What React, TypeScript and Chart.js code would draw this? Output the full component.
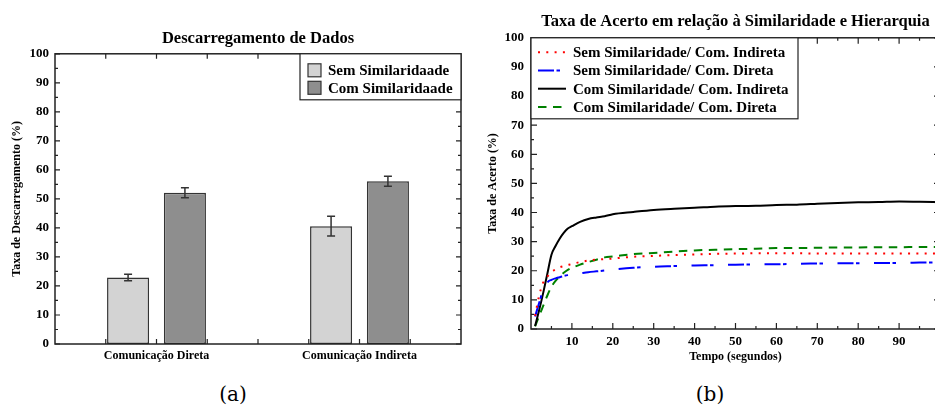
import React, { useEffect, useRef } from 'react';
import { Chart, registerables } from 'chart.js';

Chart.register(...registerables);

const SERIF = "'Liberation Serif', 'Times New Roman', serif";

// ---------- (a) Descarregamento de Dados ----------
const barTitle = 'Descarregamento de Dados';
const barYTitle = 'Taxa de Descarregamento (%)';
const barCategories = ['Comunicação Direta', 'Comunicação Indireta'];
const barSeriesLabels = ['Sem Similaridaade', 'Com Similaridaade'];
const semSimilaridadeValues = [22.9, 40.6];
const semSimilaridadeErrors = [1.1, 3.4];
const comSimilaridadeValues = [52.1, 56.1];
const comSimilaridadeErrors = [1.7, 1.7];
const barColors = ['#d3d3d3', '#8e8e8e'];
const barMajorY = [0, 10, 20, 30, 40, 50, 60, 70, 80, 90, 100];
const barMinorY = [5, 15, 25, 35, 45, 55, 65, 75, 85, 95];
const barXTickMarks = [-0.25, 0, 0.25, 0.5, 0.75, 1, 1.25];

// ---------- (b) Taxa de Acerto ----------
const lineTitle = 'Taxa de Acerto em relação à Similaridade e Hierarquia';
const lineYTitle = 'Taxa de Acerto (%)';
const lineXTitle = 'Tempo (segundos)';
const lineSeriesLabels = [
  'Sem Similaridade/ Com. Indireta',
  'Sem Similaridade/ Com. Direta',
  'Com Similaridade/ Com. Indireta',
  'Com Similaridade/ Com. Direta',
];
const timeSeconds = [1, 2, 3, 4, 5, 6, 7, 8, 9, 10, 12, 14, 16, 18, 20, 25, 30, 35, 40, 45, 50, 55, 60, 65, 70, 75, 80, 85, 90, 95, 100];
const semSimIndireta = [4.5, 11.5, 16, 18, 19.5, 20.5, 21.2, 21.6, 22, 22.3, 23, 23.5, 23.8, 24, 24.2, 24.8, 25.1, 25.4, 25.6, 25.8, 25.9, 26, 26, 26, 25.9, 25.9, 25.9, 25.9, 25.9, 25.9, 25.9];
const semSimDireta = [4.3, 9, 13.5, 16, 16.9, 17.4, 17.8, 18.2, 18.5, 18.7, 19.1, 19.5, 19.8, 20.1, 20.4, 21, 21.4, 21.6, 21.8, 21.9, 22.1, 22.2, 22.2, 22.4, 22.5, 22.6, 22.6, 22.7, 22.7, 22.8, 22.9];
const comSimIndireta = [1, 6.5, 12.5, 19, 25.5, 28.5, 31, 33, 34.5, 35.3, 36.8, 37.8, 38.3, 38.7, 39.4, 40.2, 40.9, 41.3, 41.6, 42, 42.2, 42.3, 42.6, 42.7, 43, 43.3, 43.5, 43.6, 43.8, 43.7, 43.5];
const comSimDireta = [0.9, 4.5, 8, 11.5, 14.5, 16.5, 18, 19.3, 20.3, 21, 22.1, 23, 23.8, 24.6, 24.9, 25.7, 26.1, 26.6, 27, 27.2, 27.4, 27.6, 27.8, 27.8, 27.9, 28, 28, 28.1, 28.1, 28.2, 28.2];
const lineColors = ['#ff0000', '#0000ff', '#000000', '#008000'];
const lineDashes = [[2, 6.3], [16, 2.5, 3.5, 14.5], [], [8.5, 6.5]];
const lineMajorX = [10, 20, 30, 40, 50, 60, 70, 80, 90];
const lineMinorX = [5, 15, 25, 35, 45, 55, 65, 75, 85, 95];
const lineMajorY = [0, 10, 20, 30, 40, 50, 60, 70, 80, 90, 100];
const lineMinorY = [5, 15, 25, 35, 45, 55, 65, 75, 85, 95];

function framePlugin(xMajor: number[], xMinor: number[], yMajor: number[], yMinor: number[], majorLen: number, minorLen: number) {
  return {
    id: 'frameTicks',
    afterDatasetsDraw(chart: any) {
      const { ctx, chartArea: a, scales } = chart;
      ctx.save();
      ctx.strokeStyle = '#222';
      ctx.lineWidth = 1.2;
      ctx.beginPath();
      const xt = (vals: number[], len: number) => {
        for (const v of vals) {
          const px = scales.x.getPixelForValue(v);
          ctx.moveTo(px, a.bottom);
          ctx.lineTo(px, a.bottom - len);
          ctx.moveTo(px, a.top);
          ctx.lineTo(px, a.top + len);
        }
      };
      const yt = (vals: number[], len: number) => {
        for (const v of vals) {
          const py = scales.y.getPixelForValue(v);
          ctx.moveTo(a.left, py);
          ctx.lineTo(a.left + len, py);
          ctx.moveTo(a.right, py);
          ctx.lineTo(a.right - len, py);
        }
      };
      xt(xMajor, majorLen);
      xt(xMinor, minorLen);
      yt(yMajor, majorLen);
      yt(yMinor, minorLen);
      ctx.stroke();
      ctx.lineWidth = 1.5;
      ctx.strokeRect(a.left, a.top, a.right - a.left, a.bottom - a.top);
      ctx.restore();
    },
  };
}

const errorBarPlugin = {
  id: 'errorBars',
  afterDatasetsDraw(chart: any) {
    const { ctx, scales } = chart;
    const errs = [semSimilaridadeErrors, comSimilaridadeErrors];
    ctx.save();
    ctx.strokeStyle = '#333';
    ctx.lineWidth = 1.5;
    chart.data.datasets.forEach((ds: any, di: number) => {
      const meta = chart.getDatasetMeta(di);
      meta.data.forEach((bar: any, i: number) => {
        const v = ds.data[i];
        const e = errs[di][i];
        const yt = scales.y.getPixelForValue(v + e);
        const yb = scales.y.getPixelForValue(v - e);
        const x = bar.x;
        ctx.beginPath();
        ctx.moveTo(x, yt);
        ctx.lineTo(x, yb);
        ctx.moveTo(x - 4, yt);
        ctx.lineTo(x + 4, yt);
        ctx.moveTo(x - 4, yb);
        ctx.lineTo(x + 4, yb);
        ctx.stroke();
      });
    });
    ctx.restore();
  },
};

const barLegendPlugin = {
  id: 'barLegend',
  afterDraw(chart: any) {
    const { ctx, chartArea: a } = chart;
    const w = 161;
    const h = 46;
    const left = a.right - w;
    const top = a.top;
    ctx.save();
    ctx.fillStyle = '#fff';
    ctx.fillRect(left, top, w, h);
    ctx.strokeStyle = '#222';
    ctx.lineWidth = 1.2;
    ctx.strokeRect(left, top, w, h);
    ctx.font = `bold 15px ${SERIF}`;
    ctx.textBaseline = 'middle';
    ctx.textAlign = 'left';
    barSeriesLabels.forEach((label, i) => {
      const cy = top + 16.5 + i * 17.5;
      ctx.fillStyle = barColors[i];
      ctx.fillRect(left + 8, cy - 6.5, 13, 13);
      ctx.strokeStyle = '#333';
      ctx.lineWidth = 1.2;
      ctx.strokeRect(left + 8, cy - 6.5, 13, 13);
      ctx.fillStyle = '#000';
      ctx.fillText(label, left + 28, cy + 1);
    });
    ctx.restore();
  },
};

const lineLegendPlugin = {
  id: 'lineLegend',
  afterDraw(chart: any) {
    const { ctx, chartArea: a } = chart;
    const w = 267;
    const h = 81;
    const left = a.left;
    const top = a.top;
    ctx.save();
    ctx.fillStyle = '#fff';
    ctx.fillRect(left, top, w, h);
    ctx.strokeStyle = '#222';
    ctx.lineWidth = 1.2;
    ctx.strokeRect(left, top, w, h);
    ctx.font = `bold 15px ${SERIF}`;
    ctx.textBaseline = 'middle';
    ctx.textAlign = 'left';
    lineSeriesLabels.forEach((label, i) => {
      const cy = top + 14.5 + i * 18.2;
      ctx.strokeStyle = lineColors[i];
      ctx.lineWidth = 2;
      ctx.setLineDash(lineDashes[i]);
      ctx.beginPath();
      ctx.moveTo(left + 7, cy);
      ctx.lineTo(left + 35, cy);
      ctx.stroke();
      ctx.setLineDash([]);
      ctx.fillStyle = '#000';
      ctx.fillText(label, left + 42, cy + 1);
    });
    ctx.restore();
  },
};

export default function App() {
  const leftRef = useRef<HTMLCanvasElement>(null);
  const rightRef = useRef<HTMLCanvasElement>(null);

  useEffect(() => {
    const left = new Chart(leftRef.current as HTMLCanvasElement, {
      type: 'bar',
      data: {
        labels: barCategories,
        datasets: [
          {
            label: barSeriesLabels[0],
            data: semSimilaridadeValues,
            backgroundColor: barColors[0],
            borderColor: '#333',
            borderWidth: 1.5,
            borderSkipped: false,
            categoryPercentage: 0.56,
            barPercentage: 0.74,
          },
          {
            label: barSeriesLabels[1],
            data: comSimilaridadeValues,
            backgroundColor: barColors[1],
            borderColor: '#333',
            borderWidth: 1.5,
            borderSkipped: false,
            categoryPercentage: 0.56,
            barPercentage: 0.74,
          },
        ],
      },
      options: {
        responsive: false,
        animation: false,
        layout: { padding: { left: 0, right: 6, top: 0, bottom: 0 } },
        plugins: {
          legend: { display: false },
          tooltip: { enabled: false },
          title: {
            display: true,
            text: barTitle,
            fullSize: false,
            color: '#000',
            font: { family: SERIF, size: 16.5, weight: 'bold' },
            padding: { top: 29, bottom: 5 },
          },
        },
        scales: {
          x: {
            grid: { display: false, drawTicks: false },
            border: { display: false },
            ticks: { color: '#000', font: { family: SERIF, size: 12, weight: 'bold' }, padding: 5, maxRotation: 0 },
            afterFit: (s: any) => { s.height = 30; },
          },
          y: {
            min: 0,
            max: 100,
            grid: { display: false, drawTicks: false },
            border: { display: false },
            ticks: { stepSize: 10, color: '#000', font: { family: SERIF, size: 13, weight: 'bold' }, padding: 6 },
            title: {
              display: true,
              text: barYTitle,
              color: '#000',
              font: { family: SERIF, size: 12, weight: 'bold' },
              padding: { top: 10, bottom: 0 },
            },
            afterFit: (s: any) => { s.width = 55; },
          },
        },
      } as any,
      plugins: [framePlugin(barXTickMarks, [], barMajorY, barMinorY, 5, 3), errorBarPlugin, barLegendPlugin],
    });

    const seriesList = [semSimIndireta, semSimDireta, comSimIndireta, comSimDireta];
    const right = new Chart(rightRef.current as HTMLCanvasElement, {
      type: 'line',
      data: {
        datasets: seriesList.map((s, i) => ({
          label: lineSeriesLabels[i],
          data: timeSeconds.map((t, j) => ({ x: t, y: s[j] })),
          borderColor: lineColors[i],
          borderWidth: 2,
          borderDash: lineDashes[i],
          pointRadius: 0,
          fill: false,
          cubicInterpolationMode: 'monotone',
        })),
      },
      options: {
        responsive: false,
        animation: false,
        layout: { padding: { left: 0, right: 7, top: 0, bottom: 0 } },
        plugins: {
          legend: { display: false },
          tooltip: { enabled: false },
          title: {
            display: true,
            text: lineTitle,
            fullSize: false,
            color: '#000',
            font: { family: SERIF, size: 16.5, weight: 'bold' },
            padding: { top: 12, bottom: 6 },
          },
        },
        scales: {
          x: {
            type: 'linear',
            min: 0,
            max: 100,
            grid: { display: false, drawTicks: false },
            border: { display: false },
            ticks: {
              stepSize: 10,
              autoSkip: false,
              maxRotation: 0,
              color: '#000',
              font: { family: SERIF, size: 13, weight: 'bold' },
              padding: 5,
              callback: (v: any) => (v === 0 || v === 100 ? '' : String(v)),
            },
            title: {
              display: true,
              text: lineXTitle,
              color: '#000',
              font: { family: SERIF, size: 12, weight: 'bold' },
              padding: { top: 0, bottom: 6 },
            },
            afterFit: (s: any) => { s.height = 41; },
          },
          y: {
            min: 0,
            max: 100,
            grid: { display: false, drawTicks: false },
            border: { display: false },
            ticks: { stepSize: 10, color: '#000', font: { family: SERIF, size: 13, weight: 'bold' }, padding: 7 },
            title: {
              display: true,
              text: lineYTitle,
              color: '#000',
              font: { family: SERIF, size: 12, weight: 'bold' },
              padding: { top: 19, bottom: 0 },
            },
            afterFit: (s: any) => { s.width = 64; },
          },
        },
      } as any,
      plugins: [framePlugin(lineMajorX, lineMinorX, lineMajorY, lineMinorY, 6, 3), lineLegendPlugin],
    });

    return () => {
      left.destroy();
      right.destroy();
    };
  }, []);

  const captionStyle: React.CSSProperties = {
    position: 'absolute',
    width: 100,
    textAlign: 'center',
    fontFamily: "'DejaVu Serif', serif",
    fontSize: 20,
    lineHeight: '24px',
    color: '#000',
    top: 382,
  };

  return (
    <div style={{ position: 'fixed', left: 0, top: 0, width: 935, height: 405, overflow: 'hidden', background: '#fff' }}>
      <canvas ref={leftRef} width={467} height={374} style={{ position: 'absolute', left: 0, top: 0 }} />
      <canvas ref={rightRef} width={480} height={370} style={{ position: 'absolute', left: 467, top: 0 }} />
      <div style={{ ...captionStyle, left: 183 }}>(a)</div>
      <div style={{ ...captionStyle, left: 660 }}>(b)</div>
    </div>
  );
}
